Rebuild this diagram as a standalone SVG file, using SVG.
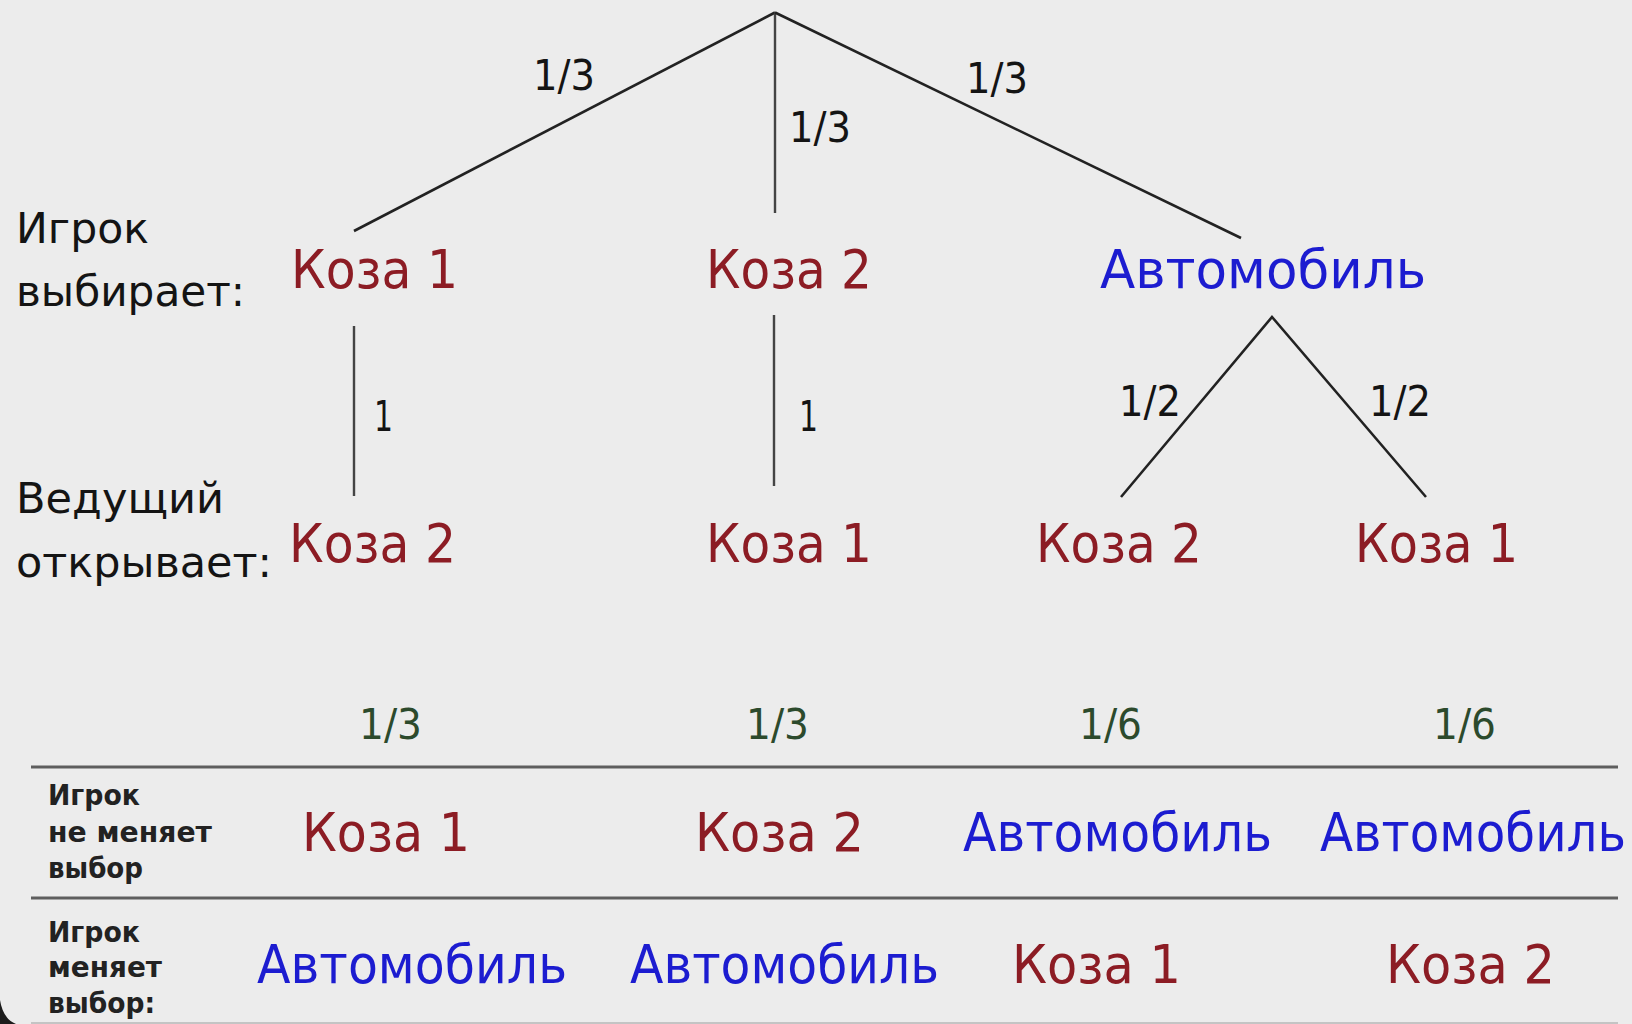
<svg xmlns="http://www.w3.org/2000/svg" width="1632" height="1024" viewBox="0 0 1632 1024">
  <style>
    .bg { fill: #ececec; }
    text { font-family: "DejaVu Sans", "Liberation Sans", sans-serif; }
    .goat { font-size: 54px; fill: #8c1c24; }
    .car { font-size: 54px; fill: #1c1cd0; }
    .prob { font-size: 42px; fill: #141414; }
    .total { font-size: 42px; fill: #2c4a2c; }
    .side { font-size: 43px; fill: #141414; }
    .row { font-size: 27.5px; font-weight: bold; fill: #222; }
    .edge { stroke: #222; stroke-width: 2.6; fill: none; }
    .stem { stroke: #444; stroke-width: 2.4; fill: none; }
    .rule { stroke: #5e5e5e; stroke-width: 3; }
  </style>

  <rect class="bg" x="0" y="0" width="1632" height="1024"/>

  <!-- tree edges -->
  <g id="connectors">
    <line class="edge" x1="775" y1="12.5" x2="354" y2="231"/>
    <line class="stem" x1="775" y1="12.5" x2="775" y2="213"/>
    <line class="edge" x1="775" y1="12.5" x2="1241" y2="238"/>
    <line class="stem" x1="354" y1="326" x2="354" y2="496"/>
    <line class="stem" x1="774" y1="315" x2="774" y2="486"/>
    <polyline class="edge" points="1121,497 1272,317 1426,497"/>
    <text class="prob" x="533" y="90" textLength="62" lengthAdjust="spacingAndGlyphs">1/3</text>
    <text class="prob" x="789" y="142" textLength="62" lengthAdjust="spacingAndGlyphs">1/3</text>
    <text class="prob" x="966" y="93" textLength="62" lengthAdjust="spacingAndGlyphs">1/3</text>
    <text class="prob" x="374" y="431" textLength="19" lengthAdjust="spacingAndGlyphs">1</text>
    <text class="prob" x="799" y="431" textLength="19" lengthAdjust="spacingAndGlyphs">1</text>
    <text class="prob" x="1119" y="416" textLength="62" lengthAdjust="spacingAndGlyphs">1/2</text>
    <text class="prob" x="1369" y="416" textLength="62" lengthAdjust="spacingAndGlyphs">1/2</text>
  </g>

  <!-- row captions on the left -->
  <g id="caption-choice">
    <text class="side" x="16" y="243" textLength="133" lengthAdjust="spacingAndGlyphs">Игрок</text>
    <text class="side" x="16" y="306" textLength="229" lengthAdjust="spacingAndGlyphs">выбирает:</text>
  </g>
  <g id="caption-host">
    <text class="side" x="16" y="513" textLength="208" lengthAdjust="spacingAndGlyphs">Ведущий</text>
    <text class="side" x="16" y="577" textLength="256" lengthAdjust="spacingAndGlyphs">открывает:</text>
  </g>

  <!-- player's first pick -->
  <g id="pick-goat1"><text class="goat" x="291" y="288" textLength="167" lengthAdjust="spacingAndGlyphs">Коза 1</text></g>
  <g id="pick-goat2"><text class="goat" x="706" y="288" textLength="166" lengthAdjust="spacingAndGlyphs">Коза 2</text></g>
  <g id="pick-car"><text class="car" x="1100" y="288" textLength="326" lengthAdjust="spacingAndGlyphs">Автомобиль</text></g>

  <!-- door opened by the host -->
  <g id="open-goat2-a"><text class="goat" x="289" y="562" textLength="167" lengthAdjust="spacingAndGlyphs">Коза 2</text></g>
  <g id="open-goat1-a"><text class="goat" x="706" y="562" textLength="166" lengthAdjust="spacingAndGlyphs">Коза 1</text></g>
  <g id="open-goat2-b"><text class="goat" x="1036" y="562" textLength="166" lengthAdjust="spacingAndGlyphs">Коза 2</text></g>
  <g id="open-goat1-b"><text class="goat" x="1355" y="562" textLength="163" lengthAdjust="spacingAndGlyphs">Коза 1</text></g>

  <!-- outcome table -->
  <g id="outcome-table">
    <text class="total" x="359" y="739" textLength="63" lengthAdjust="spacingAndGlyphs">1/3</text>
    <text class="total" x="746" y="739" textLength="63" lengthAdjust="spacingAndGlyphs">1/3</text>
    <text class="total" x="1079" y="739" textLength="63" lengthAdjust="spacingAndGlyphs">1/6</text>
    <text class="total" x="1433" y="739" textLength="63" lengthAdjust="spacingAndGlyphs">1/6</text>

    <line class="rule" x1="31" y1="767" x2="1618" y2="767"/>
    <line class="rule" x1="31" y1="898" x2="1618" y2="898"/>
    <line x1="31" y1="1023" x2="1618" y2="1023" stroke="#c4c4c4" stroke-width="2"/>

    <text class="row" x="48" y="805" textLength="92" lengthAdjust="spacingAndGlyphs">Игрок</text>
    <text class="row" x="48" y="842" textLength="164" lengthAdjust="spacingAndGlyphs">не меняет</text>
    <text class="row" x="48" y="878" textLength="95" lengthAdjust="spacingAndGlyphs">выбор</text>
    <text class="goat" x="302" y="851" textLength="168" lengthAdjust="spacingAndGlyphs">Коза 1</text>
    <text class="goat" x="695" y="851" textLength="169" lengthAdjust="spacingAndGlyphs">Коза 2</text>
    <text class="car" x="963" y="851" textLength="309" lengthAdjust="spacingAndGlyphs">Автомобиль</text>
    <text class="car" x="1320" y="851" textLength="306" lengthAdjust="spacingAndGlyphs">Автомобиль</text>

    <text class="row" x="48" y="942" textLength="92" lengthAdjust="spacingAndGlyphs">Игрок</text>
    <text class="row" x="48" y="977" textLength="114" lengthAdjust="spacingAndGlyphs">меняет</text>
    <text class="row" x="48" y="1013" textLength="107" lengthAdjust="spacingAndGlyphs">выбор:</text>
    <text class="car" x="257" y="983" textLength="310" lengthAdjust="spacingAndGlyphs">Автомобиль</text>
    <text class="car" x="630" y="983" textLength="309" lengthAdjust="spacingAndGlyphs">Автомобиль</text>
    <text class="goat" x="1012" y="983" textLength="169" lengthAdjust="spacingAndGlyphs">Коза 1</text>
    <text class="goat" x="1386" y="983" textLength="169" lengthAdjust="spacingAndGlyphs">Коза 2</text>
  </g>

  <!-- dark rounded corner at the bottom left -->
  <path d="M0,1000 Q3,1019 16,1024 L0,1024 Z" fill="#1c1c1c"/>
</svg>
